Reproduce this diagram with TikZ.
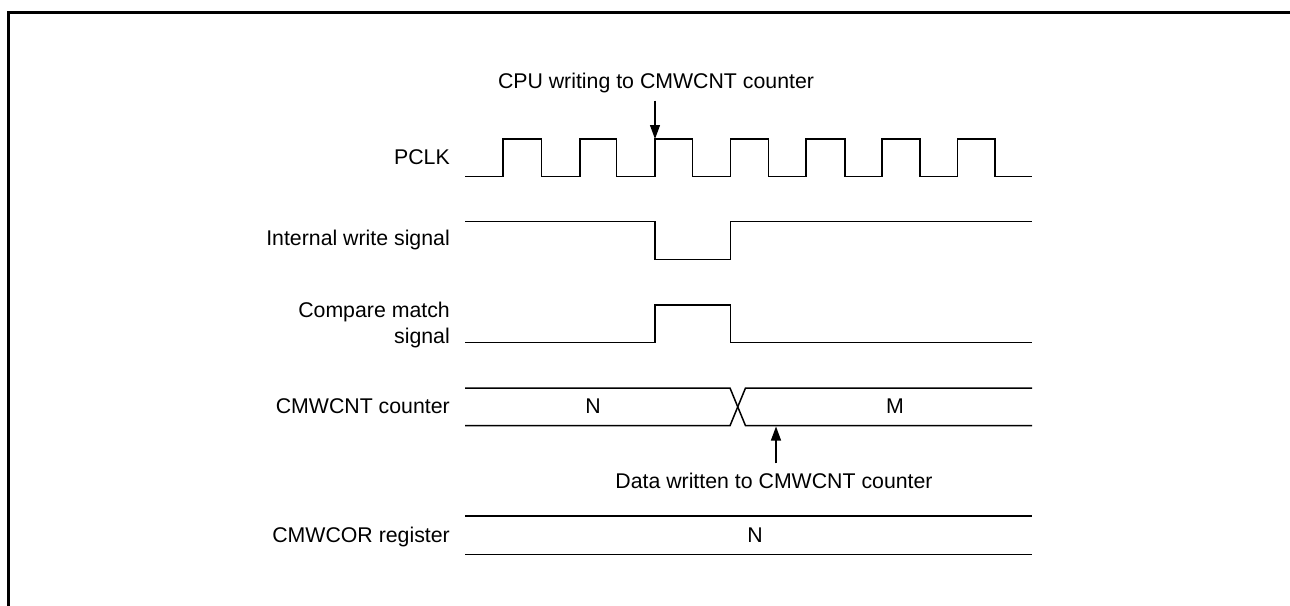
\documentclass[tikz,border=0pt]{standalone}
\usepackage{fontspec}
\setmainfont{Liberation Sans}
\usetikzlibrary{arrows.meta}
\begin{document}
\begin{tikzpicture}[x=1pt,y=-1pt,
  sig/.style={line width=1.5pt, line join=miter},
  frame/.style={line width=3pt},
  txt/.style={font=\fontsize{21.3}{26}\selectfont, inner sep=0pt},
  lbl/.style={txt, anchor=base east},
  note/.style={-{Triangle[length=14pt,width=10pt]}, line width=1.2pt}]
\useasboundingbox (0,0) rectangle (1290,605);
% frame
\draw[frame] (8.5,606) -- (8.5,12.5) -- (1291,12.5);
% labels
\node[lbl] (lpclk) at (450,164.3) {PCLK};
\node[lbl] (lwr) at (450,245.5) {Internal write signal};
\node[lbl] (lcm1) at (450,317) {Compare match};
\node[lbl] (lcm2) at (450,343) {signal};
\node[lbl] (lcnt) at (450,413) {CMWCNT counter};
\node[lbl] (lcor) at (450,542.3) {CMWCOR register};
% PCLK
\draw[sig] (465,176.7) -| (503,139) -| (541.7,176.7) -| (580,139) -| (616.7,176.7)
  -| (655,139) -| (692.5,176.7) -| (730.7,139) -| (768.5,176.7) -| (806,139)
  -| (845,176.7) -| (882,139) -| (920,176.7) -| (957.5,139) -| (995,176.7) -- (1032,176.7);
% Internal write
\draw[sig] (465,221.7) -| (655,259.3) -| (730.7,221.7) -- (1032,221.7);
% Compare match
\draw[sig] (465,342.7) -| (655,305) -| (730.7,342.7) -- (1032,342.7);
% CMWCNT bus
\draw[sig] (465,388) -- (730,388) -- (745.5,425.7) -- (1032,425.7);
\draw[sig] (465,425.7) -- (730,425.7) -- (745.5,388) -- (1032,388);
\node[txt, anchor=base] (vn) at (593,413) {N};
\node[txt, anchor=base] (vm) at (895,413) {M};
% CMWCOR
\draw[sig] (465,516) -- (1032,516);
\draw[sig] (465,554.3) -- (1032,554.3);
\node[txt, anchor=base] (vn2) at (755,542.3) {N};
% annotations
\node[txt, anchor=base] (cpu) at (656,88.3) {CPU writing to CMWCNT counter};
\coordinate (cpuA) at (655,100.7);
\coordinate (cpuB) at (655,139);
\draw[note] (cpuA) -- (cpuB);
\node[txt, anchor=base] (dat) at (774,488) {Data written to CMWCNT counter};
\coordinate (datA) at (776,463.3);
\coordinate (datB) at (776,426.5);
\draw[note] (datA) -- (datB);
\end{tikzpicture}
\end{document}
